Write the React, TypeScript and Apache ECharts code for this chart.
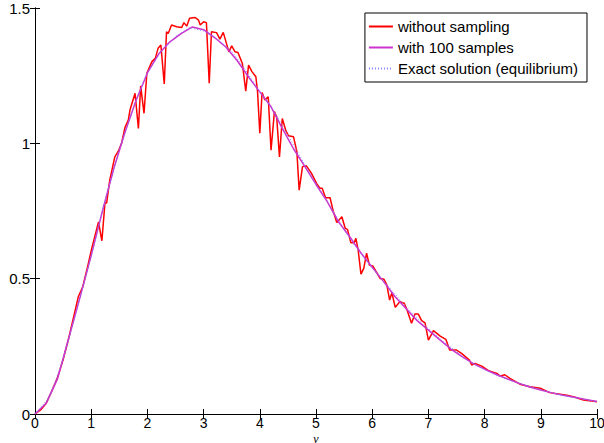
import React, { useEffect, useRef } from "react";
import * as echarts from "echarts";

const xTicks = [0, 1, 2, 3, 4, 5, 6, 7, 8, 9, 10];
const yTicks = [0, 0.5, 1, 1.5];

const seriesNames = ["without sampling", "with 100 samples", "Exact solution (equilibrium)"];

// without sampling (red)
const redX = [
  0, 0.1, 0.2, 0.3, 0.4, 0.5, 0.6, 0.7, 0.77, 0.85, 0.92, 1.01, 1.13, 1.19, 1.245, 1.275, 1.33, 1.42, 1.48, 1.54,
  1.6, 1.66, 1.69, 1.78, 1.84, 1.88, 1.94, 1.99, 2.08, 2.14, 2.19, 2.24, 2.3, 2.34, 2.37, 2.43, 2.52, 2.61, 2.65, 2.7,
  2.75, 2.85, 2.91, 2.94, 3.0, 3.05, 3.1, 3.14, 3.23, 3.29, 3.35, 3.45, 3.5, 3.56, 3.61, 3.69, 3.75, 3.8, 3.86, 3.93,
  3.96, 4.0, 4.04, 4.09, 4.15, 4.2, 4.26, 4.3, 4.35, 4.4, 4.46, 4.51, 4.6, 4.66, 4.7, 4.76, 4.83, 4.92, 5.01, 5.07,
  5.11, 5.17, 5.25, 5.31, 5.37, 5.46, 5.52, 5.56, 5.62, 5.68, 5.71, 5.75, 5.8, 5.85, 5.9, 5.95, 6.01, 6.07, 6.14, 6.21,
  6.26, 6.31, 6.35, 6.41, 6.49, 6.57, 6.62, 6.7, 6.76, 6.82, 6.88, 6.94, 7.0, 7.09, 7.21, 7.31, 7.38, 7.5, 7.59, 7.73,
  7.77, 7.83, 7.95, 8.07, 8.22, 8.27, 8.36, 8.45, 8.63, 8.81, 8.99, 9.16, 9.31, 9.46, 9.58, 9.76, 9.9, 10.0,
];
const redY = [
  0, 0.015, 0.04, 0.085, 0.135, 0.2, 0.28, 0.37, 0.433, 0.47, 0.53, 0.612, 0.71, 0.64, 0.78, 0.78, 0.864, 0.95, 0.97, 1.0,
  1.058, 1.086, 1.123, 1.185, 1.055, 1.212, 1.111, 1.259, 1.302, 1.314, 1.351, 1.363, 1.219, 1.412, 1.406, 1.437, 1.431, 1.428, 1.446, 1.433,
  1.462, 1.465, 1.455, 1.437, 1.449, 1.446, 1.222, 1.412, 1.409, 1.385, 1.41, 1.338, 1.36, 1.338, 1.336, 1.295, 1.193, 1.289, 1.265, 1.246,
  1.19, 1.037, 1.188, 1.16, 1.172, 0.975, 1.117, 1.098, 0.95, 1.092, 1.049, 1.028, 1.024, 0.969, 0.827, 0.914, 0.917, 0.889, 0.852, 0.834,
  0.834, 0.799, 0.799, 0.747, 0.707, 0.729, 0.686, 0.682, 0.633, 0.633, 0.649, 0.606, 0.517, 0.538, 0.594, 0.55, 0.547, 0.526, 0.501, 0.498,
  0.477, 0.421, 0.448, 0.394, 0.415, 0.409, 0.384, 0.335, 0.369, 0.369, 0.345, 0.337, 0.273, 0.308, 0.288, 0.276, 0.236, 0.236, 0.224, 0.199,
  0.181, 0.187, 0.177, 0.16, 0.15, 0.14, 0.145, 0.132, 0.11, 0.101, 0.095, 0.079, 0.074, 0.069, 0.064, 0.052, 0.048, 0.045,
];

// with 100 samples (magenta)
const magX = [
  0, 0.2, 0.4, 0.6, 0.8, 1.0, 1.2, 1.4, 1.6, 1.8, 2.0, 2.2, 2.4, 2.6, 2.8, 3.0, 3.2, 3.4, 3.6, 3.8, 4.0, 4.2, 4.4, 4.6,
  4.8, 5.0, 5.2, 5.4, 5.6, 5.8, 6.0, 6.2, 6.4, 6.6, 6.8, 7.0, 7.2, 7.4, 7.6, 7.8, 8.0, 8.2, 8.4, 8.6, 8.8, 9.0, 9.2,
  9.4, 9.6, 9.8, 10.0,
];
const magY = [
  0, 0.04, 0.13, 0.28, 0.43, 0.585, 0.75, 0.905, 1.04, 1.16, 1.26, 1.33, 1.375, 1.405, 1.43, 1.42, 1.39, 1.355, 1.305, 1.245, 1.19, 1.135, 1.055, 0.98,
  0.915, 0.848, 0.785, 0.71, 0.655, 0.595, 0.542, 0.49, 0.435, 0.39, 0.345, 0.31, 0.275, 0.24, 0.212, 0.186, 0.166, 0.147, 0.13, 0.114, 0.1, 0.089, 0.078,
  0.069, 0.062, 0.054, 0.046,
];

// exact solution (dotted)
const exX = [
  0, 0.25, 0.5, 0.75, 1.0, 1.25, 1.5, 1.75, 2.0, 2.25, 2.5, 2.75, 3.0, 3.25, 3.5, 3.75, 4.0, 4.25, 4.5, 4.75, 5.0,
  5.25, 5.5, 5.75, 6.0, 6.25, 6.5, 6.75, 7.0, 7.25, 7.5, 7.75, 8.0, 8.25, 8.5, 8.75, 9.0, 9.25, 9.5, 9.75, 10.0,
];
const exY = [
  0, 0.06, 0.2, 0.39, 0.585, 0.79, 0.98, 1.13, 1.262, 1.34, 1.395, 1.428, 1.415, 1.385, 1.34, 1.27, 1.19, 1.12, 1.03, 0.94, 0.85,
  0.77, 0.68, 0.605, 0.54, 0.48, 0.42, 0.365, 0.315, 0.27, 0.23, 0.192, 0.163, 0.14, 0.122, 0.105, 0.09, 0.075, 0.064, 0.054, 0.045,
];

const FONT = "'Liberation Sans', Arial, sans-serif";

export default function App() {
  const ref = useRef<HTMLDivElement>(null);
  useEffect(() => {
    if (!ref.current) return;
    const chart = echarts.init(ref.current, undefined, { renderer: "svg" });
    const axisCommon = {
      axisLine: { show: true, lineStyle: { color: "#000", width: 1 } },
      axisTick: { show: true, inside: true, length: 5, lineStyle: { color: "#000", width: 1 } },
      splitLine: { show: false },
    };
    const xMin = xTicks[0];
    const xMax = xTicks[xTicks.length - 1];
    const yMin = yTicks[0];
    const yMax = yTicks[yTicks.length - 1];
    chart.setOption({
      animation: false,
      backgroundColor: "#fff",
      grid: { left: 35, right: 7, top: 8, bottom: 29, containLabel: false, outerBoundsMode: "none" },
      legend: {
        data: seriesNames,
        orient: "vertical",
        right: 17,
        top: 13,
        itemWidth: 24,
        itemHeight: 14,
        itemGap: 6,
        backgroundColor: "#fff",
        borderColor: "#000",
        borderWidth: 1,
        borderRadius: 0,
        padding: [6, 9, 6, 3],
        itemStyle: { opacity: 0 },
        textStyle: { fontSize: 15, color: "#000", fontFamily: FONT },
      },
      xAxis: [
        {
          type: "value",
          min: xMin,
          max: xMax,
          interval: 1,
          position: "bottom",
          ...axisCommon,
          axisLabel: { color: "#000", fontSize: 14, lineHeight: 14, fontFamily: FONT, margin: 2 },
          name: "ν",
          nameLocation: "middle",
          nameGap: 20,
          nameMoveOverlap: false,
          nameTextStyle: {
            color: "#000",
            fontSize: 12,
            lineHeight: 9,
            verticalAlign: "top",
            fontStyle: "italic",
            fontFamily: "'Liberation Serif', serif",
          },
        },
        {
          type: "value",
          min: xMin,
          max: xMax,
          interval: 1,
          position: "top",
          ...axisCommon,
          axisLabel: { show: false },
        },
      ],
      yAxis: [
        {
          type: "value",
          min: yMin,
          max: yMax,
          interval: 0.5,
          position: "left",
          ...axisCommon,
          axisLabel: { color: "#000", fontSize: 15, fontFamily: FONT, margin: 5 },
        },
        {
          type: "value",
          min: yMin,
          max: yMax,
          interval: 0.5,
          position: "right",
          ...axisCommon,
          axisLabel: { show: false },
        },
      ],
      series: [
        {
          name: seriesNames[0],
          type: "line",
          symbol: "none",
          data: redX.map((x, i) => [x, redY[i]]),
          lineStyle: { color: "#ff0000", width: 1.5 },
          itemStyle: { color: "#ff0000" },
        },
        {
          name: seriesNames[1],
          type: "line",
          symbol: "none",
          data: magX.map((x, i) => [x, magY[i]]),
          lineStyle: { color: "#cc33cc", width: 1.5 },
          itemStyle: { color: "#cc33cc" },
        },
        {
          name: seriesNames[2],
          type: "line",
          symbol: "none",
          data: exX.map((x, i) => [x, exY[i]]),
          lineStyle: { color: "#8080ff", width: 1, type: [1, 2] },
          itemStyle: { color: "#8080ff" },
        },
      ],
    });
    return () => chart.dispose();
  }, []);
  return <div ref={ref} style={{ width: 604, height: 443, position: "absolute", left: 0, top: 0 }} />;
}
